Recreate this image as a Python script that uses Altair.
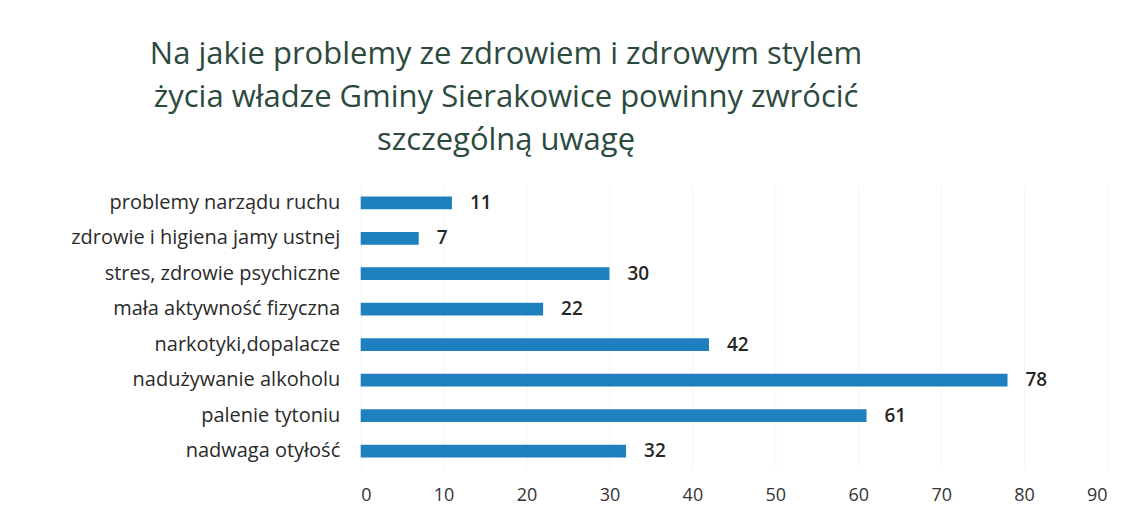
import altair as alt
import pandas as pd

categories = [
    "problemy narządu ruchu",
    "zdrowie i higiena jamy ustnej",
    "stres, zdrowie psychiczne",
    "mała aktywność fizyczna",
    "narkotyki,dopalacze",
    "nadużywanie alkoholu",
    "palenie tytoniu",
    "nadwaga otyłość",
]
values = [11, 7, 30, 22, 42, 78, 61, 32]
x_ticks = [0, 10, 20, 30, 40, 50, 60, 70, 80, 90]

df = pd.DataFrame({"kategoria": categories, "wartosc": values})

FONT = "Open Sans"
BAR = "#1f80c0"

y_enc = alt.Y(
    "kategoria:N",
    sort=categories,
    title=None,
    scale=alt.Scale(paddingInner=0.64, paddingOuter=0.32),
    axis=alt.Axis(
        labelFont=FONT, labelFontSize=20, labelColor="#2a2a2a",
        labelPadding=21, ticks=False, domain=False, grid=False,
        labelLimit=400,
    ),
)
x_enc = alt.X(
    "wartosc:Q",
    title=None,
    scale=alt.Scale(domain=[0, 90], nice=False),
    axis=alt.Axis(
        values=x_ticks, labelFont=FONT, labelFontSize=18, labelColor="#333333",
        labelPadding=18, ticks=False, domain=False, grid=True,
        gridColor="#f4f6f8", gridWidth=1,
    ),
)

bars = alt.Chart(df).mark_bar(color=BAR).encode(y=y_enc, x=x_enc)
labels = alt.Chart(df).mark_text(
    align="left", baseline="middle", dx=18, font=FONT, fontSize=19,
    fontWeight=600, color="#262626",
).encode(y=alt.Y("kategoria:N", sort=categories), x="wartosc:Q", text="wartosc:Q")

chart = (
    alt.layer(bars, labels)
    .properties(
        width=747,
        height=284,
        view=alt.ViewBackground(stroke="transparent", strokeWidth=0),
        autosize=alt.AutoSizeParams(type="none"),
        padding={"left": 353, "top": 177, "right": 30, "bottom": 40},
        title=alt.TitleParams(
            text=[
                "Na jakie problemy ze zdrowiem i zdrowym stylem",
                "życia władze Gminy Sierakowice powinny zwrócić",
                "szczególną uwagę",
            ],
            font=FONT, fontSize=31, fontWeight="normal", color="#2c4a3e",
            anchor="middle", dx=-228, offset=28, lineHeight=43,
        ),
    )
    .configure_view(stroke="transparent", strokeWidth=0)
    .configure(background="white", style={"cell": {"stroke": "transparent"}})
)

chart.save("out.html", embed_options={"renderer": "svg", "actions": False})
